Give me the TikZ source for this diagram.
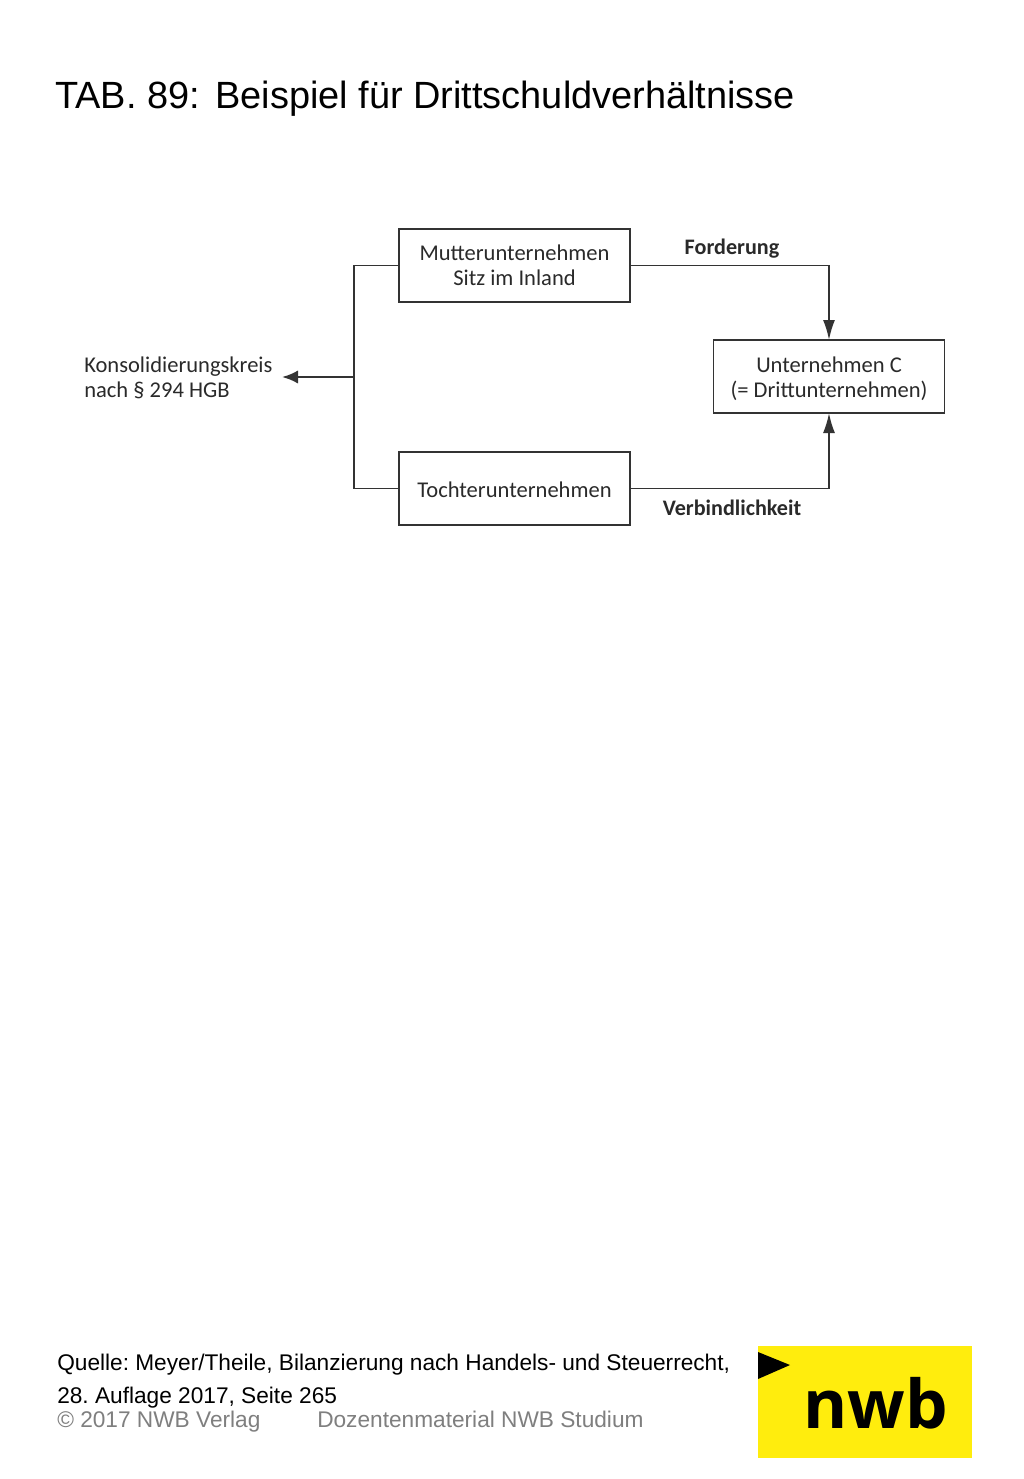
\documentclass[tikz,border=0pt]{standalone}
\usepackage{fontspec}
\setmainfont{Liberation Sans}
\newfontfamily\diagfont{Carlito}
\newfontfamily\logofont{Open Sans}
\frenchspacing
\definecolor{diagline}{HTML}{333333}
\definecolor{diagtext}{HTML}{2A2A2A}
\definecolor{nwbyellow}{HTML}{FFED0D}
\definecolor{footgray}{HTML}{7F7F7F}
\usetikzlibrary{arrows.meta}
\newcommand{\lowered}[2]{\raisebox{-#1}[0pt][0pt]{\begin{tabular}{@{}c@{}}#2\end{tabular}}}
\tikzset{
 x=0.75pt,y=-0.75pt,
 orgbox/.style={draw=diagline,line width=1.4pt,outer sep=0pt,minimum width=173.25pt,minimum height=54.75pt,inner sep=0pt,align=center,font=\diagfont\fontsize{16.9}{19}\selectfont,text=diagtext},
 lab/.style={inner sep=0pt,anchor=base,font=\diagfont\bfseries\fontsize{16.6}{19}\selectfont,text=diagtext},
 conn/.style={draw=diagline,line width=1.4pt},
 tip/.style={-{Latex[length=15pt,width=9pt,sharp]}},
 tipk/.style={-{Latex[length=12pt,width=10pt,sharp]}},
 titletext/.style={inner sep=0pt,anchor=base west,font=\fontsize{28.45}{32}\selectfont,text=black},
 foot/.style={inner sep=0pt,anchor=base west,font=\fontsize{17}{20}\selectfont,text=black},
 footg/.style={foot,text=footgray},
}
\begin{document}
\begin{tikzpicture}
\useasboundingbox (0,0) rectangle (1024,1479);
\fill[white] (0,0) rectangle (1024,1479);
\node[titletext] (t1) at (55,108) {TAB. 89:};
\node[titletext] (t2) at (215,108) {Beispiel für Drittschuldverhältnisse};

\node[orgbox] (m) at (514.5,265.5) {Mutterunternehmen\\Sitz im Inland};
\node[orgbox] (t) at (514.5,488.5) {\lowered{7.5pt}{Tochterunternehmen}};
\node[orgbox] (c) at (829,376.5) {\lowered{6.8pt}{Unternehmen C\\(= Drittunternehmen)}};
\node[inner sep=0pt,anchor=west,align=left,font=\diagfont\fontsize{16.9}{19}\selectfont,text=diagtext] (k) at (84,378) {Konsolidierungskreis\\nach § 294 HGB};
\coordinate (j) at (354,377);
\coordinate (kend) at (282,377);
\draw[conn] (m.west) -| (j) |- (t.west);
\draw[conn,tipk,line width=1.9pt] (j) -- (kend);
\draw[conn,tip] (m.east) -| (c.north);
\draw[conn,tip] (t.east) -| (c.south);
\node[lab] (f) at (732,254.5) {Forderung};
\node[lab] (v) at (732,515) {Verbindlichkeit};

\node[foot] (q1) at (57,1370) {Quelle: Meyer/Theile, Bilanzierung nach Handels- und Steuerrecht,};
\node[foot] (q2) at (57,1403) {28. Auflage 2017, Seite 265};
\node[footg] (c1) at (57,1427) {© 2017 NWB Verlag};
\node[footg] (c2) at (317,1427) {Dozentenmaterial NWB Studium};

\fill[nwbyellow] (758,1346) rectangle (972,1458);
\fill[black] (758,1352) -- (790,1365) -- (758,1379) -- cycle;
\node[inner sep=0pt,anchor=base west,font=\logofont\bfseries\fontsize{50.5}{56}\selectfont,text=black] (n) at (803,1428) {nwb};
\end{tikzpicture}
\end{document}
